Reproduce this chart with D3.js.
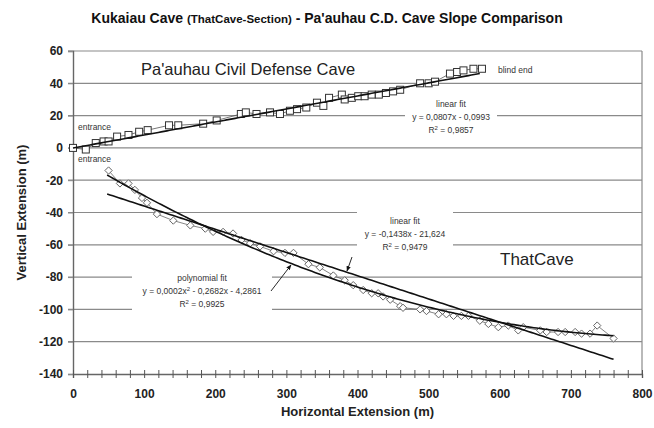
<!DOCTYPE html>
<html>
<head>
<meta charset="utf-8">
<script src="https://cdn.jsdelivr.net/npm/d3@7"></script>
<style>
  body { margin: 0; background: #fff; }
  svg { font-family: "Liberation Sans", Arial, sans-serif; }
</style>
</head>
<body>
<script>
// Pa'auhau Civil Defense Cave survey (squares)
var pauX = [0, 18, 32, 43, 50, 62, 78, 93, 105, 135, 148, 183, 202, 236, 243, 258, 277, 291, 305, 315, 328, 343, 352, 360, 378, 382, 392, 401,
  410, 420, 430, 440, 450, 460, 488, 500, 509, 530, 540, 549, 563, 575];
var pauY = [0, -1, 3, 4, 4, 7, 8, 10, 11, 14, 14, 15, 17, 21, 22, 21, 22, 21, 23, 24, 25, 28, 26, 31, 33, 30, 31, 32,
  32, 33, 33, 34, 35, 36, 40, 40, 41, 46, 47, 48, 49, 49];

// ThatCave section of Kukaiau Cave (diamonds)
var thatX = [50, 66, 78, 87, 97, 104, 118, 141, 165, 186, 197, 211, 225, 237, 249, 263, 282, 298, 310, 331, 347, 366, 382, 394,
  408, 420, 429, 436, 446, 460, 464, 488, 497, 514, 525, 535, 546, 556, 572, 584, 598, 612, 626, 633, 657, 666, 682, 692, 706, 715, 727, 737, 760];
var thatY = [-14, -22, -22, -26, -31, -34, -41, -45, -48, -50, -52, -52, -53, -57, -59, -61, -64, -65, -65, -72, -74, -79, -82, -85,
  -88, -90, -90, -92, -94, -98, -99, -100, -101, -103, -103, -104, -104, -104, -107, -109, -111, -110, -113, -111, -113, -114, -114, -114, -114, -115, -115, -110, -118];

// trend lines as given in the chart
var pauFit = [0.0807, -0.0993];              // linear
var pauFitRange = [0, 575];
var thatLinFit = [-0.1438, -21.624];         // linear
var thatPolyFit = [0.000159, -0.2682, -4.2861]; // polynomial (a shown rounded as 0,0002)
var thatFitRange = [48, 760];

var xTicks = [0, 100, 200, 300, 400, 500, 600, 700, 800];
var yTicks = [60, 40, 20, 0, -20, -40, -60, -80, -100, -120, -140];

var svgWidth = 654, svgHeight = 428;
var margin = { top: 51, right: 12, bottom: 54, left: 73 };

var svg = d3.select("body").append("svg")
  .attr("width", svgWidth)
  .attr("height", svgHeight);

var x = d3.scaleLinear().domain([0, 800]).range([margin.left, svgWidth - margin.right]);
var y = d3.scaleLinear().domain([-140, 60]).range([svgHeight - margin.bottom, margin.top]);

// title
var title = svg.append("text")
  .attr("x", 327).attr("y", 23)
  .attr("text-anchor", "middle")
  .style("font-weight", "bold").style("font-size", "14px").style("fill", "#111");
title.append("tspan").text("Kukaiau Cave ");
title.append("tspan").style("font-size", "11.5px").text("(ThatCave-Section)");
title.append("tspan").text(" - Pa'auhau C.D. Cave Slope Comparison");

// gridlines
svg.append("g").selectAll("line")
  .data(yTicks.filter(d => d > -140))
  .enter().append("line")
  .attr("x1", x(0) - 5).attr("x2", x(800))
  .attr("y1", d => y(d)).attr("y2", d => y(d))
  .attr("stroke", "#8a8a8a").attr("stroke-width", 1.2);

// right border
svg.append("line")
  .attr("x1", x(800)).attr("x2", x(800))
  .attr("y1", y(60)).attr("y2", y(-140))
  .attr("stroke", "#8a8a8a").attr("stroke-width", 1.2);

// white boxes behind fit labels (they cut the gridlines)
var boxes = [
  { x0: 405, x1: 497, y0: 97, y1: 140 },
  { x0: 357, x1: 453, y0: 208, y1: 254 },
  { x0: 132, x1: 272, y0: 268, y1: 313 }
];
svg.append("g").selectAll("rect")
  .data(boxes).enter().append("rect")
  .attr("x", d => d.x0).attr("y", d => d.y0)
  .attr("width", d => d.x1 - d.x0).attr("height", d => d.y1 - d.y0)
  .attr("fill", "#fff");

// axes
var yAxis = d3.axisLeft(y).tickValues(yTicks).tickSize(5).tickFormat(d => String(d));
var gy = svg.append("g").attr("transform", `translate(${x(0)},0)`).call(yAxis);
gy.select(".domain").attr("stroke", "#666").attr("stroke-width", 1.4);
gy.selectAll(".tick line").attr("stroke", "#8a8a8a");
gy.selectAll(".tick text")
  .attr("x", -10)
  .style("font-size", "12px").style("font-weight", "bold")
  .style("font-family", "Liberation Sans, Arial, sans-serif").style("fill", "#222");

var minorTicks = d3.range(0, 801, 20);
var xAxis = d3.axisBottom(x).tickValues(minorTicks).tickSize(4)
  .tickFormat(d => d % 100 === 0 ? String(d) : "");
var gx = svg.append("g").attr("transform", `translate(0,${y(-140)})`).call(xAxis);
gx.select(".domain").attr("stroke", "#666").attr("stroke-width", 1.4);
gx.selectAll(".tick line").attr("y1", -4).attr("stroke", "#555");
gx.selectAll(".tick text")
  .attr("y", 15)
  .style("font-size", "12px").style("font-weight", "bold")
  .style("font-family", "Liberation Sans, Arial, sans-serif").style("fill", "#222");

// axis titles
svg.append("text")
  .attr("transform", `translate(26, ${(y(60) + y(-140)) / 2}) rotate(-90)`)
  .attr("text-anchor", "middle")
  .style("font-weight", "bold").style("font-size", "13px").style("fill", "#222")
  .text("Vertical Extension (m)");

svg.append("text")
  .attr("x", (x(0) + x(800)) / 2).attr("y", 416)
  .attr("text-anchor", "middle")
  .style("font-weight", "bold").style("font-size", "13px").style("fill", "#222")
  .text("Horizontal Extension (m)");

// data lines
var pauData = pauX.map((d, i) => [d, pauY[i]]);
var thatData = thatX.map((d, i) => [d, thatY[i]]);
var line = d3.line().x(d => x(d[0])).y(d => y(d[1]));

svg.append("path").datum(pauData).attr("d", line)
  .attr("fill", "none").attr("stroke", "#555").attr("stroke-width", 0.8);
svg.append("path").datum(thatData).attr("d", line)
  .attr("fill", "none").attr("stroke", "#666").attr("stroke-width", 0.8);

// markers
svg.append("g").selectAll("rect")
  .data(pauData).enter().append("rect")
  .attr("x", d => x(d[0]) - 3.5).attr("y", d => y(d[1]) - 3.5)
  .attr("width", 7).attr("height", 7)
  .attr("fill", "#fff").attr("stroke", "#333").attr("stroke-width", 1);

var diamond = d3.symbol().type(d3.symbolDiamond2).size(34);
svg.append("g").selectAll("path")
  .data(thatData).enter().append("path")
  .attr("d", diamond)
  .attr("transform", d => `translate(${x(d[0])},${y(d[1])})`)
  .attr("fill", "#fff").attr("stroke", "#666").attr("stroke-width", 1);

// trend lines
function fitPoints(coefs, range) {
  var xs = d3.range(range[0], range[1] + 0.1, 4);
  return xs.map(function (v) {
    var val = 0;
    coefs.forEach(function (c) { val = val * v + c; });
    return [v, val];
  });
}
[[pauFit, pauFitRange], [thatLinFit, thatFitRange], [thatPolyFit, thatFitRange]].forEach(function (f) {
  svg.append("path").datum(fitPoints(f[0], f[1])).attr("d", line)
    .attr("fill", "none").attr("stroke", "#111").attr("stroke-width", 1.6);
});

// labels
function smallText(px, py, txt, anchor) {
  return svg.append("text").attr("x", px).attr("y", py)
    .attr("text-anchor", anchor || "middle")
    .style("font-size", "8.5px").style("fill", "#333").text(txt);
}
smallText(78, 130, "entrance", "start");
smallText(78, 162, "entrance", "start");
smallText(498, 73, "blind end", "start");

svg.append("text").attr("x", 141).attr("y", 75)
  .style("font-size", "16.5px").style("fill", "#222").text("Pa'auhau Civil Defense Cave");
svg.append("text").attr("x", 500).attr("y", 265)
  .style("font-size", "17px").style("fill", "#222").text("ThatCave");

function fitLabel(cx, y0, name, eq, r2) {
  smallText(cx, y0, name);
  var e = svg.append("text").attr("x", cx).attr("y", y0 + 13).attr("text-anchor", "middle")
    .style("font-size", "8.5px").style("fill", "#333");
  if (Array.isArray(eq)) {
    e.append("tspan").text(eq[0]);
    e.append("tspan").attr("dy", -3).style("font-size", "6px").text("2");
    e.append("tspan").attr("dy", 3).text(eq[1]);
  } else {
    e.text(eq);
  }
  var r = svg.append("text").attr("x", cx).attr("y", y0 + 26).attr("text-anchor", "middle")
    .style("font-size", "8.5px").style("fill", "#333");
  r.append("tspan").text("R");
  r.append("tspan").attr("dy", -3).style("font-size", "6px").text("2");
  r.append("tspan").attr("dy", 3).text(" = " + r2);
}
fitLabel(451, 107, "linear fit", "y = 0,0807x - 0,0993", "0,9857");
fitLabel(405, 224, "linear fit", "y = -0,1438x - 21,624", "0,9479");
fitLabel(202, 281, "polynomial fit", ["y = 0,0002x", " - 0,2682x - 4,2861"], "0,9925");

// arrows
svg.append("defs").append("marker")
  .attr("id", "ah").attr("viewBox", "0 0 10 10").attr("refX", 9).attr("refY", 5)
  .attr("markerWidth", 6).attr("markerHeight", 6).attr("orient", "auto")
  .append("path").attr("d", "M0,1 L10,5 L0,9 z").attr("fill", "#111");
var arrows = [[352, 257, 347, 271], [271, 291, 291, 265]];
svg.append("g").selectAll("line").data(arrows).enter().append("line")
  .attr("x1", d => d[0]).attr("y1", d => d[1]).attr("x2", d => d[2]).attr("y2", d => d[3])
  .attr("stroke", "#111").attr("stroke-width", 0.9).attr("marker-end", "url(#ah)");
</script>
</body>
</html>
